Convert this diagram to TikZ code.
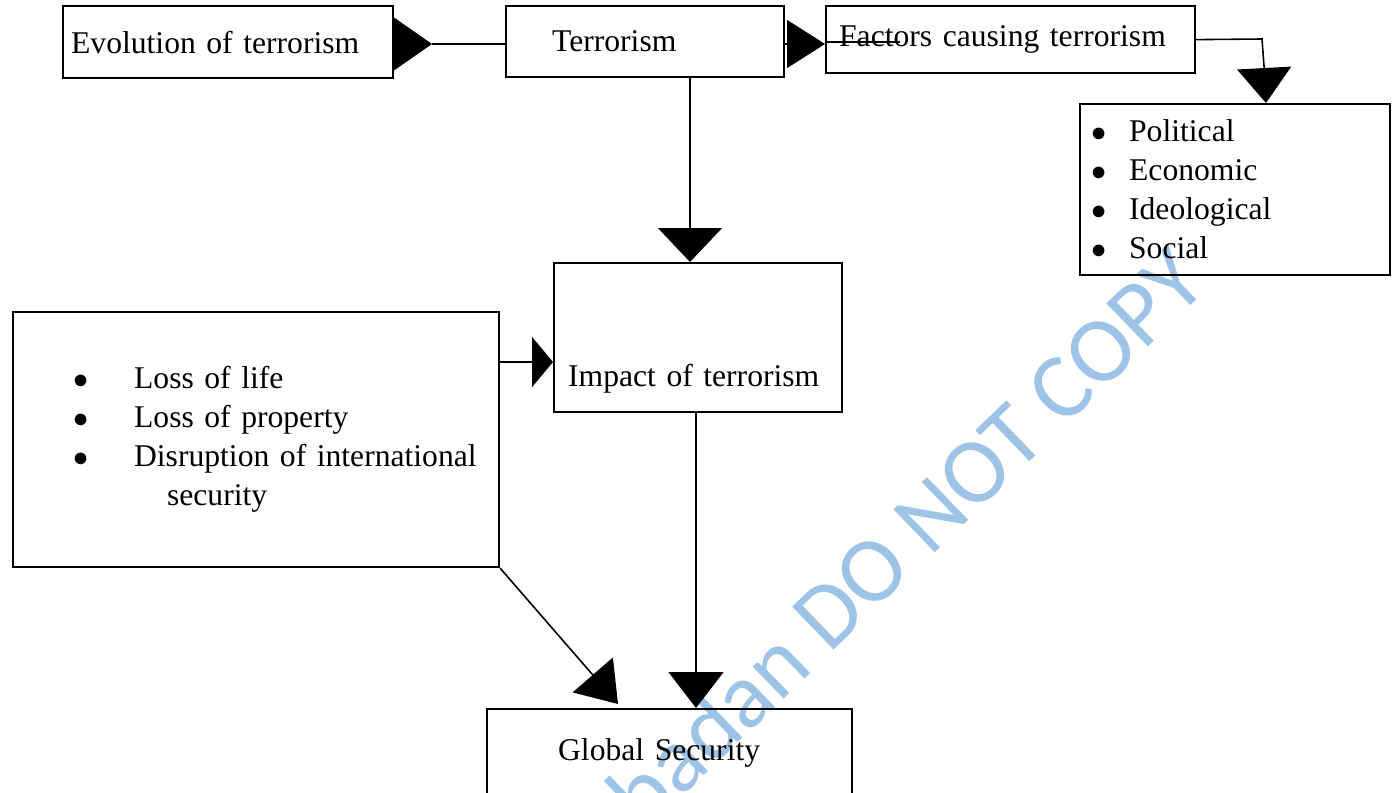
\documentclass[tikz,border=0pt]{standalone}
\usepackage{fontspec}
\setmainfont{Liberation Serif}
\newfontfamily\wmfont{Carlito}
\usepackage{tikz}
\usetikzlibrary{calc}
\usetikzlibrary{arrows.meta}
\definecolor{wmblue}{RGB}{157,195,230}

\begin{document}
\begin{tikzpicture}[x=0.02cm,y=-0.02cm,line width=0.9pt]
  \tikzstyle{every node}=[font=\fontsize{18}{22.2}\selectfont]
  \tikzstyle{box}=[draw,line width=1.3pt,anchor=north west,inner ysep=0pt,align=left]
  \tikzstyle{head}=[-{Triangle[length=0.72cm,width=1.1cm]}]
  \tikzstyle{flathead}=[-{Triangle[length=0.42cm,width=1cm]}]

  \useasboundingbox (0,0) rectangle (1395,793);
  \clip (0,0) rectangle (1395,793);

  \node[rotate=44,text=wmblue,font=\wmfont\fontsize{53}{53}\selectfont] (W) at (897,545) {Ibadan DO NOT COPY};

  \node[box,minimum width=6.6cm,minimum height=1.44cm,inner xsep=0.16cm,text width=6.28cm]  (E) at (62,5)    {Evolution of terrorism};
  \node[box,minimum width=5.56cm,minimum height=1.42cm,inner xsep=0.92cm,text width=3.72cm] (T) at (505,5)   {Terrorism};
  \node[box,minimum width=7.38cm,minimum height=1.34cm,inner xsep=0.26cm,text width=6.86cm] (F) at (825,5)   {Factors causing terrorism};
  \node[box,minimum width=6.2cm,minimum height=3.42cm,inner xsep=0.22cm,text width=5.76cm]  (P) at (1079,103)
       {\makebox[0.76cm][l]{$\bullet$}Political\\
        \makebox[0.76cm][l]{$\bullet$}Economic\\
        \makebox[0.76cm][l]{$\bullet$}Ideological\\
        \makebox[0.76cm][l]{$\bullet$}Social};
  \node[box,minimum width=5.76cm,minimum height=2.98cm,inner xsep=0.28cm,text width=5.2cm]  (I) at (553,262)
       {\rule{0pt}{2.1cm}Impact of terrorism};
  \node[box,minimum width=9.72cm,minimum height=5.1cm,inner xsep=0.2cm,text width=9.32cm]   (C) at (12,311)
       {\hspace*{1cm}\makebox[1.22cm][l]{$\bullet$}Loss of life\\
        \hspace*{1cm}\makebox[1.22cm][l]{$\bullet$}Loss of property\\
        \hspace*{1cm}\makebox[1.22cm][l]{$\bullet$}Disruption of international\\
        \hspace*{2.88cm}security};
  \node[box,minimum width=7.3cm,minimum height=1.76cm,inner xsep=1.42cm,text width=4.46cm]  (G) at (486,708) {Global Security};

  \coordinate (Etip) at (432,44);
  \coordinate (FP1) at (1262,39);
  \coordinate (FP2) at (1264,66);
  \coordinate (FP3) at (1266,103);
  \coordinate (TI) at (690,0);
  \coordinate (CI) at (0,362);
  \coordinate (IG) at (696,0);
  \coordinate (CG) at (618,704);

  \draw[-{Triangle[length=0.78cm,width=1.08cm]}] (E.east |- Etip) -- (Etip);
  \draw (Etip) -- (T.west |- Etip);
  \draw[-{Triangle[length=0.76cm,width=0.96cm]}] (T.east |- Etip) -- (F.west |- Etip);
  \draw (F.west |- Etip) ++(0,-2) -- ++(75,0);
  \draw[-{Triangle[length=0.7cm,width=1.08cm]}] (F.east) -- (FP1) -- (FP2) -- (FP3);
  \draw[-{Triangle[length=0.68cm,width=1.28cm]}] (T.south -| TI) -- (I.north -| TI);
  \draw[flathead] (C.east |- CI) -- (I.west |- CI);
  \draw[head] (I.south -| IG) -- (G.north -| IG);
  \draw[-{Triangle[length=0.77cm,width=1.06cm]}] (C.south east) -- (CG);

\end{tikzpicture}
\end{document}
